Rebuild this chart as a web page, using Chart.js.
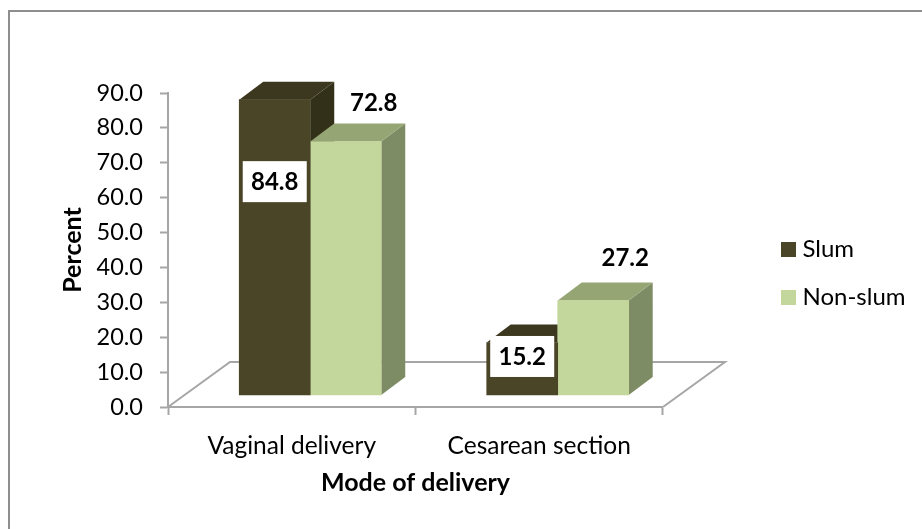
<!DOCTYPE html>
<html>
<head>
<meta charset="utf-8">
<style>html,body{margin:0;padding:0;background:#fff}#w{width:922px;height:529px}</style>
<script src="https://cdn.jsdelivr.net/npm/chart.js@4/dist/chart.umd.min.js"></script>
</head>
<body>
<div id="w"><canvas id="c" width="922" height="529"></canvas></div>
<script>
const categories = ["Vaginal delivery", "Cesarean section"];
const slum = [84.8, 15.2];
const nonSlum = [72.8, 27.2];
const seriesNames = ["Slum", "Non-slum"];
const yTicks = [0, 10, 20, 30, 40, 50, 60, 70, 80, 90];

const FONT = "Lato, Carlito, Calibri, sans-serif";
const GREY = "#A6A6A6";
const faces = [
  {front: "#4A4527", top: "#3C381F", side: "#33301A"},
  {front: "#C3D69B", top: "#95A573", side: "#7E8C65"}
];
// Perspective offsets of the 3D look
const depth = {dx: 24, dy: 18};
const shift = {x: 18.5, y: -11.5};
const floorDepth = {dx: 62, dy: 45};
const labelOffset = [
  [{x: 0, y: 82, box: true}, {x: 0, y: 14, box: true}],
  [{x: 28, y: -39, box: false}, {x: 32, y: -43, box: false}]
];

function legendSwatch(color) {
  const s = document.createElement("canvas");
  s.width = 15; s.height = 15;
  const g = s.getContext("2d");
  g.fillStyle = color;
  g.fillRect(0, 0, 15, 15);
  return s;
}

const threeD = {
  id: "threeD",
  beforeDraw(chart) {
    const c = chart.ctx;
    c.save();
    c.strokeStyle = "#8E8E8E";
    c.lineWidth = 2;
    c.beginPath();
    c.moveTo(9, 529);
    c.lineTo(9, 11);
    c.lineTo(922, 11);
    c.stroke();
    c.restore();
  },
  beforeDatasetsDraw(chart) {
    const c = chart.ctx;
    const a = chart.chartArea;
    const y0 = chart.scales.y.getPixelForValue(0);
    c.save();
    c.strokeStyle = GREY;
    c.lineWidth = 2;
    c.beginPath();
    c.moveTo(a.left, y0);
    c.lineTo(a.left + floorDepth.dx, y0 - floorDepth.dy);
    c.lineTo(a.right + floorDepth.dx, y0 - floorDepth.dy);
    c.lineTo(a.right, y0);
    c.stroke();
    // side and top faces, slum first so that non-slum overlaps it
    [0, 1].forEach(i => {
      chart.getDatasetMeta(i).data.forEach(b => {
        const L = b.x - b.width / 2 + shift.x, R = b.x + b.width / 2 + shift.x;
        const T = b.y + shift.y, B = b.base + shift.y;
        c.fillStyle = faces[i].side;
        c.beginPath();
        c.moveTo(R, T);
        c.lineTo(R + depth.dx, T - depth.dy);
        c.lineTo(R + depth.dx, B - depth.dy);
        c.lineTo(R, B);
        c.closePath();
        c.fill();
        c.fillStyle = faces[i].top;
        c.beginPath();
        c.moveTo(L, T);
        c.lineTo(L + depth.dx, T - depth.dy);
        c.lineTo(R + depth.dx, T - depth.dy);
        c.lineTo(R, T);
        c.closePath();
        c.fill();
      });
    });
    c.restore();
  },
  beforeDatasetDraw(chart) {
    chart.ctx.save();
    chart.ctx.translate(shift.x, shift.y);
  },
  afterDatasetDraw(chart) {
    chart.ctx.restore();
  },
  afterDatasetsDraw(chart) {
    const c = chart.ctx;
    c.save();
    c.font = "bold 24px " + FONT;
    c.textAlign = "center";
    c.textBaseline = "middle";
    chart.data.datasets.forEach((ds, i) => {
      chart.getDatasetMeta(i).data.forEach((b, j) => {
        const o = labelOffset[i][j];
        const x = b.x + shift.x + o.x, y = b.y + shift.y + o.y;
        if (o.box) {
          c.fillStyle = "#fff";
          c.fillRect(x - 32, y - 20.5, 64, 41);
        }
        c.fillStyle = "#000";
        c.fillText(ds.data[j].toFixed(1), x, y + 1);
      });
    });
    c.restore();
  },
  afterLayout(chart) {
    const l = chart.legend;
    l.left = 762.5; l.right = 922; l.top = 213; l.bottom = 345;
  }
};

new Chart(document.getElementById("c"), {
  type: "bar",
  data: {
    labels: categories,
    datasets: [
      {label: seriesNames[0], data: slum, backgroundColor: faces[0].front, clip: false, pointStyle: legendSwatch(faces[0].front)},
      {label: seriesNames[1], data: nonSlum, backgroundColor: faces[1].front, clip: false, pointStyle: legendSwatch(faces[1].front)}
    ]
  },
  options: {
    responsive: false,
    animation: false,
    layout: {padding: {left: 56, top: 93, right: 106, bottom: 31}},
    datasets: {bar: {barThickness: 71}},
    plugins: {
      tooltip: {enabled: false},
      legend: {
        position: "right",
        align: "start",
        labels: {
          usePointStyle: true, pointStyleWidth: 4,
          boxWidth: 15, boxHeight: 15, padding: 24,
          color: "#000",
          font: {family: FONT, size: 24}
        }
      }
    },
    scales: {
      x: {
        grid: {drawOnChartArea: false, drawTicks: true, tickLength: 8, tickWidth: 2, color: GREY, offset: true},
        border: {color: GREY, width: 2},
        ticks: {color: "#000", font: {family: FONT, size: 24.5}, padding: 16, maxRotation: 0},
        title: {display: true, text: "Mode of delivery", color: "#000",
                font: {family: FONT, size: 25, weight: "bold"}, padding: {top: 8, bottom: 0}},
        afterFit(s) { s.height = 91; }
      },
      y: {
        min: 0, max: 90,
        afterBuildTicks(s) { s.ticks = yTicks.map(v => ({value: v})); },
        grid: {drawOnChartArea: false, drawTicks: true, tickLength: 8, tickWidth: 2, color: GREY},
        border: {color: GREY, width: 2},
        ticks: {color: "#000", font: {family: FONT, size: 23.5}, padding: 17,
                callback: v => Number(v).toFixed(1)},
        title: {display: true, text: "Percent", color: "#000",
                font: {family: FONT, size: 25, weight: "bold"}, padding: {top: 2, bottom: 4}},
        afterFit(s) { s.width = 112; }
      }
    }
  },
  plugins: [threeD]
});
</script>
</body>
</html>
